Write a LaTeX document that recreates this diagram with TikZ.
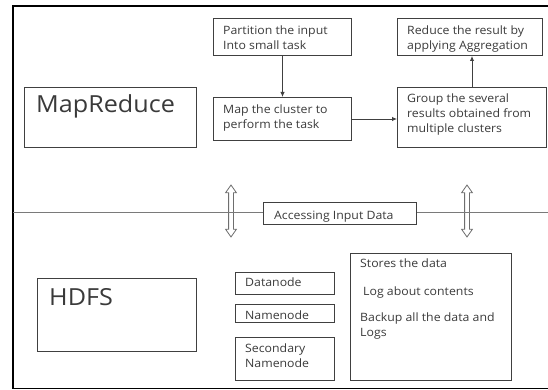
\documentclass[tikz,border=0pt]{standalone}
\usepackage{fontspec}
\newfontfamily\diagfont[FakeStretch=1.07]{Open Sans}
\usetikzlibrary{shapes.arrows,arrows.meta}
\definecolor{ink}{HTML}{3A3A3A}
\definecolor{edge}{HTML}{404040}
\definecolor{rule}{HTML}{7A7A7A}
\tikzset{
  box/.style={draw=edge, line width=1pt, rectangle, inner sep=0pt, anchor=north west},
  % multi-line labels: the base anchor sits on the baseline of the last line
  txt/.style={anchor=base west, inner sep=0pt, align=left, text=ink,
    font=\diagfont\fontsize{11.5}{15}\selectfont},
  head/.style={anchor=base west, inner sep=0pt, text=ink,
    font=\diagfont\fontsize{23.5}{27}\selectfont},
  flow/.style={draw=edge, line width=0.9pt, -{Latex[length=5pt,width=4.5pt]}},
  updown/.style={double arrow, draw=rule!90!black, line width=0.8pt, fill=white,
    rotate=90, minimum height=52pt, inner xsep=0pt, inner ysep=2pt,
    double arrow head extend=3pt, double arrow tip angle=70}
}
\begin{document}
\begin{tikzpicture}[x=1pt,y=-1pt]
\useasboundingbox (0,0) rectangle (548,390);

% outer frame (open on the right)
\draw[black, line width=1.4pt] (548,6) -- (13,6) -- (13,388.5) -- (548,388.5);

% MapReduce layer
\node[box, minimum width=172pt, minimum height=60pt] (mr) at (24,87) {};
\node[head] (mrtxt) at (36,113) {MapReduce};

\node[box, minimum width=138pt, minimum height=37pt] (part) at (213,18) {};
\node[txt] (parttxt) at (223,49.5) {Partition the input\\Into small task};

\node[box, minimum width=138pt, minimum height=43pt] (map) at (213,97) {};
\node[txt] (maptxt) at (223,128.5) {Map the cluster to\\perform the task};

\node[box, minimum width=145pt, minimum height=37pt] (red) at (397,18) {};
\node[txt] (redtxt) at (407,50) {Reduce the result by\\applying Aggregation};

\node[box, minimum width=149pt, minimum height=60pt] (grp) at (397,87) {};
\node[txt] (grptxt) at (407,133) {Group the several\\results obtained from\\multiple clusters};

\draw[flow] (part.south) -- (map.north);
\draw[flow] (map.east) -- (map.east -| grp.west);
\draw[flow] (grp.north) -- (grp.north |- red.south);

% boundary between the layers
\node[box, minimum width=153pt, minimum height=22pt] (acc) at (263,202) {};
\node[txt] (acctxt) at (274,219) {Accessing Input Data};

\node[updown] (ud1) at (231,211) {};
\node[updown] (ud2) at (467,211) {};

\coordinate (lineL) at (13,212);
\coordinate (lineR) at (548,212);
\draw[rule, line width=1pt] (lineL) -- (lineL -| acc.west);
\draw[rule, line width=1pt] (acc.east |- lineR) -- (lineR);

% HDFS layer
\node[box, minimum width=159pt, minimum height=73pt] (hdfs) at (37,278) {};
\node[head] (hdfstxt) at (49,305) {HDFS};

\node[box, minimum width=99pt, minimum height=22pt] (dn) at (235,272) {};
\node[txt] (dntxt) at (245,286) {Datanode};

\node[box, minimum width=99pt, minimum height=18pt] (nn) at (235,304) {};
\node[txt] (nntxt) at (245,319.5) {Namenode};

\node[box, minimum width=99pt, minimum height=43pt] (snn) at (235,337) {};
\node[txt] (snntxt) at (245,367) {Secondary\\Namenode};

\node[box, minimum width=161pt, minimum height=127pt] (store) at (350,253) {};
\node[txt] (st1) at (360,267) {Stores the data};
\node[txt] (st2) at (363,295) {Log about contents};
\node[txt] (st3) at (360,336.5) {Backup all the data and\\Logs};
\end{tikzpicture}
\end{document}
